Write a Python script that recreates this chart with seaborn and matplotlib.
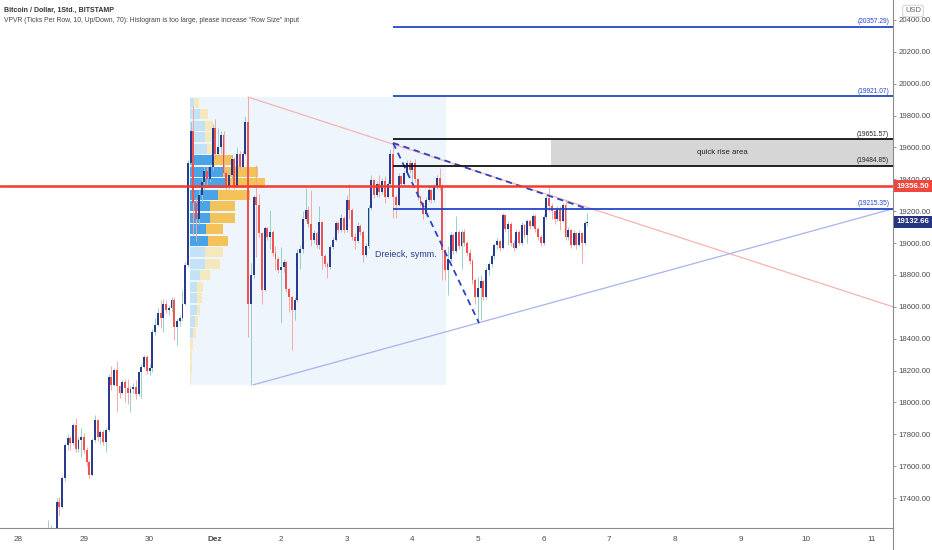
import numpy as np
import pandas as pd
import matplotlib.pyplot as plt
from matplotlib.patches import Rectangle
from matplotlib.lines import Line2D
from matplotlib.transforms import blended_transform_factory
import seaborn as sns

# BTC/USD Bitstamp, 1h candles. Hour 0 = 28 Nov 00:00, first candle = hour 11
first_hour = 11
first_open = 17150

close = [
    # 28 Nov
    17200, 17180, 17160, 17377, 17345, 17526, 17733, 17777, 17745, 17858, 17710, 17764, 17785,
    # 29 Nov
    17700, 17625, 17545, 17764, 17890, 17780, 17815, 17750, 17827, 18162, 18110, 18204,
    18100, 18060, 18130, 18090, 18060, 18085, 18095, 18050, 18190, 18224, 18287, 18200,
    # 30 Nov
    18215, 18444, 18486, 18560, 18530, 18620, 18580, 18590, 18643, 18475, 18510, 18530,
    18620, 18862, 19500, 19700, 19250, 19150, 19300, 19380, 19450, 19400, 19480, 19720,
    # 1 Dez
    19560, 19600, 19680, 19440, 19350, 19430, 19530, 19360, 19560, 19480, 19560, 19760,
    18620, 18800, 19290, 19240, 19060, 18706, 19094, 19040, 19070, 18940, 18900, 18830,
    # 2 Dez
    18850, 18880, 18710, 18660, 18580, 18640, 18937, 18960, 19150, 19207, 19120, 19020,
    19060, 18990, 19130, 18920, 18870, 18850, 18975, 19020, 19126, 19080, 19160, 19082,
    # 3 Dez
    19270, 19210, 19040, 19010, 19110, 19070, 18925, 18980, 19220, 19395, 19300, 19370,
    19320, 19390, 19290, 19370, 19560, 19290, 19240, 19420, 19370, 19440, 19500, 19460,
    # 4 Dez
    19500, 19400, 19290, 19250, 19180, 19270, 19330, 19270, 19350, 19410, 19350, 18957,
    18831, 18900, 19051, 18950, 19070, 18980, 19070, 19000, 18940, 18890, 18768, 18662,
    # 5 Dez
    18720, 18760, 18660, 18831, 18870, 18920, 18985, 19010, 18970, 19176, 19090, 19120,
    19000, 18970, 19070, 19000, 19113, 19050, 19140, 19110, 19170, 19090, 19040, 19000,
    # 6 Dez
    19164, 19280, 19230, 19200, 19150, 19210, 19140, 19240, 19040, 19080, 18990, 19060,
    18990, 19060, 19000, 19126, 19132.66,
]
high = [
    17265, 17230, 17200, 17400, 17405, 17540, 17745, 17800, 17790, 17870, 17905, 17780, 17840,
    17810, 17720, 17640, 17775, 17920, 17895, 17830, 17825, 17840, 18180, 18230, 18215,
    18260, 18110, 18140, 18150, 18150, 18100, 18120, 18140, 18200, 18240, 18295, 18300,
    18240, 18460, 18530, 18590, 18640, 18650, 18640, 18610, 18660, 18660, 18530, 18545,
    18706, 18880, 19520, 19760, 19860, 19290, 19330, 19410, 19480, 19480, 19500, 19750,
    19780, 19720, 19700, 19700, 19460, 19450, 19550, 19540, 19600, 19580, 19580, 19800,
    19916, 18875, 19300, 19490, 19310, 19070, 19110, 19100, 19210, 19080, 18980, 18910,
    18975, 18900, 18890, 18720, 18670, 18660, 18960, 18990, 19200, 19345, 19230, 19330,
    19080, 19070, 19230, 19140, 18930, 18880, 18990, 19040, 19140, 19140, 19180, 19170,
    19300, 19370, 19220, 19060, 19130, 19120, 19080, 19000, 19240, 19430, 19400, 19390,
    19430, 19410, 19420, 19390, 19590, 19628, 19300, 19440, 19430, 19460, 19520, 19520,
    19510, 19530, 19410, 19300, 19260, 19290, 19350, 19340, 19370, 19430, 19470, 19370,
    18960, 18980, 19070, 19060, 19170, 19080, 19080, 19090, 19010, 18960, 18900, 18780,
    18790, 18800, 18770, 18850, 18880, 18930, 19000, 19030, 19020, 19190, 19180, 19140,
    19130, 19020, 19090, 19080, 19130, 19120, 19150, 19150, 19180, 19180, 19100, 19050,
    19180, 19300, 19364, 19250, 19210, 19230, 19230, 19250, 19270, 19100, 19090, 19080,
    19070, 19080, 19070, 19140, 19190,
]
low = [
    17120, 17140, 17100, 17150, 17285, 17335, 17510, 17700, 17700, 17730, 17690, 17690, 17660,
    17680, 17600, 17525, 17540, 17750, 17760, 17740, 17730, 17690, 17815, 18080, 18100,
    17940, 18030, 18050, 18000, 17990, 17940, 18060, 18020, 18040, 18030, 18214, 18180,
    18170, 18190, 18420, 18480, 18470, 18440, 18560, 18550, 18570, 18392, 18360, 18480,
    18510, 18610, 18850, 19480, 19050, 19010, 19120, 19260, 19330, 19360, 19380, 19450,
    19530, 19540, 19560, 19420, 19330, 19340, 19410, 19340, 19350, 19460, 19470, 19550,
    18410, 18110, 18780, 18910, 19040, 18620, 18700, 19020, 18960, 18920, 18830, 18810,
    18500, 18820, 18690, 18570, 18330, 18520, 18630, 18840, 18940, 19140, 19100, 18980,
    19000, 18970, 18960, 18840, 18850, 18780, 18840, 18960, 19010, 19060, 19070, 19060,
    19070, 19150, 19020, 18960, 19000, 19050, 18880, 18910, 18970, 19210, 19280, 19290,
    19290, 19310, 19250, 19280, 19360, 19157, 19160, 19230, 19350, 19360, 19430, 19440,
    19390, 19380, 19270, 19230, 19150, 19170, 19260, 19250, 19260, 19340, 19330, 18770,
    18770, 18674, 18890, 18930, 18940, 18960, 18840, 18980, 18920, 18870, 18740, 18620,
    18498, 18520, 18640, 18650, 18800, 18850, 18900, 18960, 18950, 18960, 19070, 18990,
    18980, 18950, 18960, 18990, 18990, 19030, 19000, 19090, 19100, 19070, 19020, 18980,
    18990, 19150, 19200, 19150, 19120, 19140, 19080, 19130, 19020, 19020, 18970, 18980,
    18960, 18980, 18875, 18990, 19110,
]

# volume profile (visible range), 25 rows from top to bottom
vp_top, vp_bottom = 19916, 18111
vp_start, vp_end = 62.8, 156.3
vp_up = [4, 10, 15, 15, 17, 23, 33, 37, 28, 20, 20, 16, 18, 15, 15, 10, 7, 7, 7, 5, 3, 0, 0, 0, 0]
vp_down = [5, 8, 8, 8, 6, 20, 35, 38, 32, 25, 25, 17, 20, 18, 15, 10, 6, 5, 3, 3, 3, 3, 2, 1.5, 1]
value_area = (5, 12)

# drawings
levels = [20357.29, 19921.07, 19651.57, 19484.85, 19215.35]
level_colors = ["#2446c9", "#2446c9", "#111111", "#111111", "#2446c9"]
level_start = 137
last_close_line = 19356.50
quick_rise = (194.7, 19484.85, 19651.57)
tri_upper = ([84.0, 319.7], [19916, 18600])
tri_lower = ([85.8, 319.7], [18110, 19215.35])
dash_upper = ([137.0, 207.1], [19628, 19220])
dash_lower = ([137.0, 168.4], [19628, 18498])

day_labels = ["28", "29", "30", "Dez", "2", "3", "4", "5", "6", "7", "8", "9", "10", "11"]

# ---------------------------------------------------------------
df = pd.DataFrame({"close": close, "high": high, "low": low})
df["open"] = [first_open] + close[:-1]
df["hour"] = first_hour + np.arange(len(df))
df["up"] = df["close"] >= df["open"]

sns.set_theme(style="white")
plt.rcParams["font.family"] = ["Liberation Sans", "DejaVu Sans"]

fig = plt.figure(figsize=(9.32, 5.5), dpi=100)
ax = fig.add_axes([0, 22 / 550, 893 / 932, 528 / 550])
ax.set_xlim(-6.69, 319.7)
ax.set_ylim(17212, 20525)

# volume profile background + bars
ax.add_patch(Rectangle((vp_start, vp_bottom), vp_end - vp_start, vp_top - vp_bottom,
                       color="#eef5fc", lw=0, zorder=0))
n_rows = len(vp_up)
row_h = (vp_top - vp_bottom) / n_rows
scale = 27.4 / max(u + d for u, d in zip(vp_up, vp_down))
for i, (u, d) in enumerate(zip(vp_up, vp_down)):
    y0 = vp_top - (i + 1) * row_h + row_h * 0.06
    inside = value_area[0] <= i <= value_area[1]
    cu = "#4aa3e6" if inside else "#c4e2f7"
    cd = "#f3c35a" if inside else "#f6e8bd"
    ax.barh(y0, u * scale, height=row_h * 0.88, left=vp_start, align="edge",
            color=cu, lw=0, zorder=1)
    ax.barh(y0, d * scale, height=row_h * 0.88, left=vp_start + u * scale, align="edge",
            color=cd, lw=0, zorder=1)

# quick rise area box
ax.add_patch(Rectangle((quick_rise[0], quick_rise[1]), 319.7 - quick_rise[0],
                       quick_rise[2] - quick_rise[1], color="#d6d6d6", lw=0, zorder=1))
ax.text((quick_rise[0] + 319.7) / 2, (quick_rise[1] + quick_rise[2]) / 2, "quick rise area",
        ha="center", va="center", fontsize=5.6, color="#222222", zorder=6)

# candles
up = df[df["up"]]
dn = df[~df["up"]]
ax.vlines(up["hour"], up["low"], up["high"], color="#8dcfc1", lw=0.65, zorder=3)
ax.vlines(dn["hour"], dn["low"], dn["high"], color="#f3a3a3", lw=0.65, zorder=3)
ax.bar(up["hour"], up["close"] - up["open"], bottom=up["open"], width=0.7,
       color="#2a3a8c", lw=0, zorder=4)
ax.bar(dn["hour"], dn["close"] - dn["open"], bottom=dn["open"], width=0.7,
       color="#ef5350", lw=0, zorder=4)

# triangle lines
sns.lineplot(x=tri_upper[0], y=tri_upper[1], ax=ax, color="#f6b3b3", lw=0.9, zorder=2)
sns.lineplot(x=tri_lower[0], y=tri_lower[1], ax=ax, color="#a9b3ee", lw=0.9, zorder=2)
for xs, ys in (dash_upper, dash_lower):
    ax.plot(xs, ys, color="#2c44c4", lw=1.3, dashes=(3.5, 2.5), zorder=5)
ax.text(130.4, 18931, "Dreieck, symm.", fontsize=6.4, color="#2a3b8f", va="center", zorder=6)

# horizontal levels
for lv, c in zip(levels, level_colors):
    ax.hlines(lv, level_start, 319.7, color=c, lw=1.3, zorder=5)
    ax.text(318.3, lv + 8, f"({lv:.2f})", ha="right", va="bottom", fontsize=4.8,
            color=c if c != "#111111" else "#222222", zorder=6)
ax.axhline(last_close_line, color="#f23a2f", lw=1.8, zorder=5)

# axes styling
ax.set_xticks(np.arange(len(day_labels)) * 24)
ax.set_xticklabels(day_labels)
ax.xaxis.get_ticklabels()[3].set_fontweight("bold")
ax.yaxis.tick_right()
ax.set_yticks(np.arange(17400, 20401, 200))
ax.set_yticklabels([f"{v:.2f}" for v in np.arange(17400, 20401, 200)])
ax.tick_params(axis="both", labelsize=5.6, length=2.5, width=0.6, direction="out", pad=1.5,
               colors="#888888", labelcolor="#4c4c4c")
ax.tick_params(axis="x", labelsize=5.9, pad=3)
for s in ("left", "top"):
    ax.spines[s].set_visible(False)
for s in ("right", "bottom"):
    ax.spines[s].set_color("#8c8c8c")
    ax.spines[s].set_linewidth(0.8)
fig.add_artist(Line2D([893 / 932, 893 / 932], [0, 22 / 550], color="#8c8c8c", lw=0.8))

# price labels on the axis
tr = blended_transform_factory(ax.transAxes, ax.transData)
ax.text(1.004, last_close_line, "19356.50", transform=tr, fontsize=5.7, color="white",
        fontweight="bold", va="center", ha="left", clip_on=False, zorder=7,
        bbox=dict(boxstyle="square,pad=0.35", fc="#f0463c", ec="none"))
ax.text(1.004, close[-1], f"{close[-1]:.2f}", transform=tr, fontsize=5.7, color="white",
        fontweight="bold", va="center", ha="left", clip_on=False, zorder=7,
        bbox=dict(boxstyle="square,pad=0.35", fc="#26357f", ec="none"))

fig.text(913 / 932, 1 - 11 / 550, "USD", fontsize=5.5, color="#666666", ha="center", va="center",
         bbox=dict(boxstyle="round,pad=0.3", fc="white", ec="#cccccc", lw=0.6))
fig.text(4 / 932, 1 - 10 / 550, "Bitcoin / Dollar, 1Std., BITSTAMP", fontsize=5.0,
         fontweight="bold", color="#333333", va="center")
fig.text(4 / 932, 1 - 21 / 550,
         'VPVR (Ticks Per Row, 10, Up/Down, 70): Histogram is too large, please increase "Row Size" input',
         fontsize=4.9, color="#444444", va="center")

fig.savefig("out.png", dpi=100)
